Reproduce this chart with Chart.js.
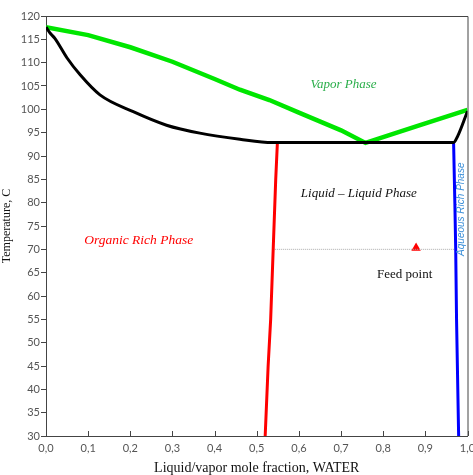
<!DOCTYPE html>
<html>
<head>
<meta charset="utf-8">
<script src="https://cdn.jsdelivr.net/npm/chart.js@4.4.1/dist/chart.umd.min.js"></script>
<style>
  html, body { margin: 0; padding: 0; background: #fff; }
  #wrap { width: 473px; height: 475px; }
</style>
</head>
<body>
<div id="wrap"><canvas id="phaseChart" width="473" height="475"></canvas></div>
<script>
// liquid curve (bubble) and vapor curve (dew)
const liquidX = [0, 0.01, 0.021, 0.05, 0.081, 0.128, 0.207, 0.286, 0.365, 0.46, 0.537, 0.967, 0.977, 1.0];
const liquidT = [117.6, 116.3, 115.2, 111.0, 107.4, 103.1, 99.5, 96.6, 94.9, 93.6, 92.9, 92.9, 94.3, 99.6];

const vaporX = [0, 0.1, 0.2, 0.3, 0.4, 0.46, 0.53, 0.6, 0.7, 0.758, 0.88, 1.0];
const vaporT = [117.6, 115.9, 113.3, 110.2, 106.5, 104.2, 102.0, 99.3, 95.5, 92.8, 96.4, 99.9];

// organic rich boundary (red) and aqueous rich boundary (blue)
const organicX = [0.549, 0.545, 0.539, 0.533, 0.527, 0.52];
const organicT = [92.9, 85, 70, 55, 45, 30];

const aqueousX = [0.967, 0.970, 0.972, 0.974, 0.976, 0.979];
const aqueousT = [92.9, 80, 70, 55, 45, 30];

// feed point and its tie line
const tieX = [0.539, 0.972];
const tieT = [70, 70];
const feedX = [0.878];
const feedT = [70.3];

const xTickValues = [0, 0.1, 0.2, 0.3, 0.4, 0.5, 0.6, 0.7, 0.8, 0.9, 1.0];
const xTickLabels = ['0,0', '0,1', '0,2', '0,3', '0,4', '0,5', '0,6', '0,7', '0,8', '0,9', '1,0'];
const yTickValues = [30, 35, 40, 45, 50, 55, 60, 65, 70, 75, 80, 85, 90, 95, 100, 105, 110, 115, 120];

const toPoints = (xs, ys) => xs.map((x, i) => ({ x: x, y: ys[i] }));

// text labels placed in data units
const labels = [
    { text: 'Vapor Phase', x: 0.706, y: 105.4, color: '#2aae4a', font: 'italic 13px "Liberation Serif"' },
    { text: 'Liquid \u2013 Liquid Phase', x: 0.742, y: 81.9, color: '#111', font: 'italic 13px "Liberation Serif"' },
    { text: 'Organic Rich Phase', x: 0.22, y: 71.8, color: '#ff0000', font: 'italic 13.5px "Liberation Serif"' },
    { text: 'Feed point', x: 0.851, y: 64.5, color: '#111', font: '13px "Liberation Serif"' },
    { text: 'Aqueous Rich Phase', x: 0.986, y: 78.6, color: '#3a8ed8', font: 'italic 10px "Liberation Sans"', rotate: true }
];

const decorPlugin = {
    id: 'decor',
    afterDraw(chart) {
        const ctx = chart.ctx;
        const area = chart.chartArea;
        const xs = chart.scales.x;
        const ys = chart.scales.y;
        ctx.save();
        // box around plot
        ctx.strokeStyle = '#444';
        ctx.lineWidth = 1;
        ctx.beginPath();
        ctx.moveTo(area.left, area.top + 0.5);
        ctx.lineTo(area.right + 0.5, area.top + 0.5);
        ctx.lineTo(area.right + 0.5, area.bottom);
        ctx.stroke();
        // inward x ticks
        ctx.beginPath();
        xTickValues.forEach(v => {
            const px = Math.round(xs.getPixelForValue(v)) + 0.5;
            ctx.moveTo(px, area.bottom);
            ctx.lineTo(px, area.bottom - 5);
        });
        ctx.stroke();
        // labels
        ctx.textAlign = 'center';
        ctx.textBaseline = 'middle';
        labels.forEach(l => {
            const px = xs.getPixelForValue(l.x);
            const py = ys.getPixelForValue(l.y);
            ctx.font = l.font;
            ctx.fillStyle = l.color;
            if (l.rotate) {
                ctx.save();
                ctx.translate(px, py);
                ctx.rotate(-Math.PI / 2);
                ctx.fillText(l.text, 0, 0);
                ctx.restore();
            } else {
                ctx.fillText(l.text, px, py);
            }
        });
        ctx.restore();
    }
};

const lineDefaults = { showLine: true, pointRadius: 0, fill: false };

new Chart(document.getElementById('phaseChart').getContext('2d'), {
    type: 'scatter',
    data: {
        datasets: [
            Object.assign({ label: 'Liquid', data: toPoints(liquidX, liquidT), borderColor: '#000', borderWidth: 3, cubicInterpolationMode: 'monotone' }, lineDefaults),
            Object.assign({ label: 'Vapor', data: toPoints(vaporX, vaporT), borderColor: '#00e600', borderWidth: 4.5, tension: 0 }, lineDefaults),
            Object.assign({ label: 'Organic', data: toPoints(organicX, organicT), borderColor: '#ff0000', borderWidth: 3 }, lineDefaults),
            Object.assign({ label: 'Aqueous', data: toPoints(aqueousX, aqueousT), borderColor: '#0000ff', borderWidth: 3 }, lineDefaults),
            Object.assign({ label: 'Tie', data: toPoints(tieX, tieT), borderColor: '#aaa', borderWidth: 1, borderDash: [1, 1] }, lineDefaults),
            {
                label: 'Feed point',
                data: toPoints(feedX, feedT),
                pointStyle: 'triangle',
                pointRadius: 5.5,
                backgroundColor: '#ff0000',
                borderColor: '#ff0000',
                borderWidth: 0,
                showLine: false
            }
        ]
    },
    options: {
        responsive: false,
        animation: false,
        layout: { padding: { left: 0, top: 16, right: 4, bottom: 0 } },
        plugins: {
            legend: { display: false },
            tooltip: { enabled: false }
        },
        scales: {
            x: {
                type: 'linear',
                min: 0,
                max: 1,
                afterBuildTicks: s => { s.ticks = xTickValues.map(v => ({ value: v })); },
                afterFit: s => { s.height = 39; s.paddingLeft = 0; s.paddingRight = 0; },
                grid: { display: true, drawOnChartArea: false, drawTicks: false },
                border: { color: '#444', width: 1 },
                ticks: {
                    padding: 6,
                    color: '#555',
                    font: { family: 'Lato', size: 11 },
                    maxRotation: 0,
                    callback: (v, i) => xTickLabels[i]
                },
                title: {
                    display: true,
                    text: 'Liquid/vapor mole fraction, WATER',
                    color: '#111',
                    font: { family: 'Liberation Serif', size: 14 },
                    padding: { top: 0, bottom: -2 }
                }
            },
            y: {
                type: 'linear',
                min: 30,
                max: 120,
                afterBuildTicks: s => { s.ticks = yTickValues.map(v => ({ value: v })); },
                afterFit: s => { s.width = 46; s.paddingTop = 0; s.paddingBottom = 0; },
                grid: { display: true, drawOnChartArea: false, drawTicks: true, tickLength: 5, color: '#444' },
                border: { color: '#444', width: 1 },
                ticks: {
                    padding: 1,
                    color: '#555',
                    font: { family: 'Lato', size: 11 },
                    callback: v => String(v)
                },
                title: {
                    display: true,
                    text: 'Temperature, C',
                    color: '#111',
                    font: { family: 'Liberation Serif', size: 12 },
                    padding: { top: 0, bottom: 7 }
                }
            }
        }
    },
    plugins: [decorPlugin]
});
</script>
</body>
</html>
